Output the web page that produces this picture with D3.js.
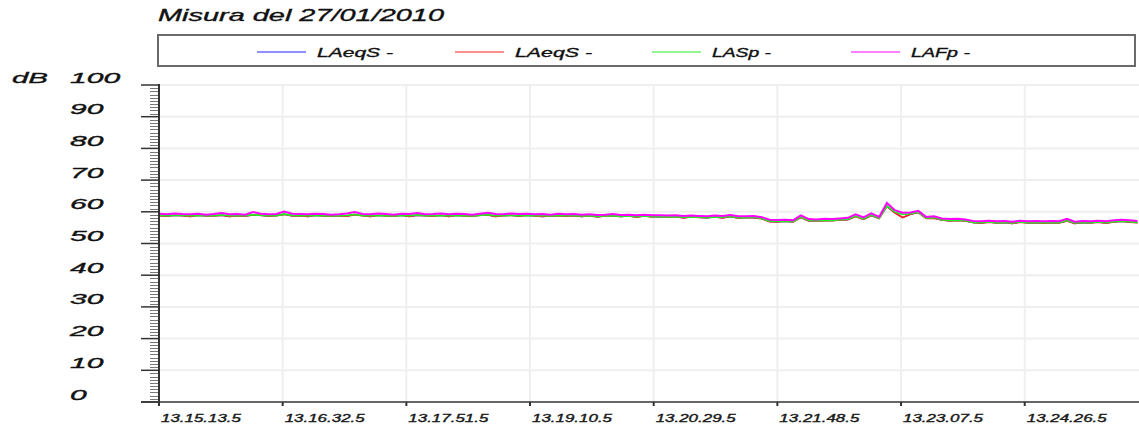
<!DOCTYPE html>
<html><head><meta charset="utf-8">
<script src="https://cdn.jsdelivr.net/npm/d3@7"></script>
<style>html,body{margin:0;padding:0;background:#fff;overflow:hidden}
text{stroke:#111;stroke-width:0.35px}</style>
</head><body>
<svg id="chart" width="1139" height="427"></svg>
<script>
const title = "Misura del 27/01/2010";
const yUnit = "dB";
const yTicks = [0,10,20,30,40,50,60,70,80,90,100];
const xTickLabels = ["13.15.13.5","13.16.32.5","13.17.51.5","13.19.10.5","13.20.29.5","13.21.48.5","13.23.07.5","13.24.26.5"];
const sampleStepSec = 5;
const seriesNames = ["LAeqS -","LAeqS -","LASp -","LAFp -"];
const seriesColors = ["#2020ff","#ff2020","#22ee22","#ff00ff"];

const lAeqS = [
58.8,58.6,58.9,58.8,58.5,58.9,58.7,58.7,58.9,58.5,58.8,58.6,59.0,
58.9,58.6,58.8,59.2,58.7,58.8,58.5,58.9,58.7,58.6,58.8,58.6,59.1,
58.8,58.5,58.9,58.7,58.6,58.9,58.5,58.9,58.8,58.6,58.9,58.5,58.9,
58.7,58.6,58.9,59.0,58.5,58.8,58.9,58.6,58.9,58.7,58.5,58.7,58.8,
58.6,58.8,58.5,58.8,58.4,58.7,58.7,58.5,58.7,58.3,58.7,58.4,58.5,
58.3,58.5,58.1,58.4,58.2,58.1,58.4,58.1,58.5,58.0,58.2,58.1,57.8,
56.9,56.8,57.0,56.8,58.2,57.1,57.1,57.2,57.2,57.4,57.5,58.5,
57.6,58.8,57.9,61.7,59.7,58.2,59.2,59.8,57.9,58.0,57.4,57.1,
57.3,57.1,56.6,56.4,56.7,56.5,56.6,56.3,56.7,56.5,56.6,56.4,56.6,56.5,57.1,56.3,56.6,56.5,56.7,56.4,56.8,57.0,56.7,56.6];

const lASp = [
58.9,58.8,58.9,58.9,58.8,58.9,58.8,58.8,59.0,58.8,58.8,58.8,59.1,
58.9,58.8,58.8,59.3,58.9,58.8,58.8,58.9,58.8,58.7,58.8,58.9,59.2,
58.8,58.8,58.9,58.8,58.7,58.9,58.8,59.0,58.8,58.8,58.9,58.8,58.9,
58.8,58.7,58.9,59.1,58.8,58.8,58.9,58.8,58.9,58.8,58.8,58.7,58.9,
58.8,58.8,58.7,58.8,58.6,58.7,58.8,58.6,58.7,58.5,58.7,58.5,58.5,
58.4,58.5,58.3,58.4,58.3,58.2,58.4,58.3,58.6,58.2,58.2,58.3,57.9,
57.1,57.0,57.1,56.9,58.4,57.3,57.2,57.4,57.3,57.5,57.7,58.7,
57.8,59.0,58.0,61.9,60.0,59.2,59.4,59.9,58.0,58.2,57.5,57.3,
57.4,57.2,56.7,56.6,56.8,56.6,56.7,56.5,56.8,56.6,56.7,56.6,56.7,56.6,57.3,56.5,56.7,56.6,56.8,56.6,56.9,57.1,56.9,56.7];

const lAFp = [
59.4,59.2,59.5,59.3,59.2,59.4,59.1,59.3,59.6,59.2,59.3,59.1,59.9,
59.4,59.2,59.3,60.1,59.4,59.3,59.2,59.4,59.3,59.1,59.2,59.5,59.9,
59.3,59.2,59.5,59.3,59.1,59.4,59.3,59.6,59.2,59.3,59.5,59.2,59.4,
59.3,59.1,59.4,59.7,59.3,59.2,59.5,59.3,59.4,59.2,59.3,59.1,59.4,
59.2,59.3,59.1,59.2,59.0,59.1,59.3,59.0,59.1,58.9,59.1,58.9,58.9,
58.8,58.9,58.7,58.8,58.7,58.6,58.8,58.7,59.0,58.6,58.6,58.7,58.3,
57.5,57.4,57.5,57.3,58.9,57.7,57.6,57.8,57.7,57.9,58.1,59.2,
58.2,59.5,58.4,62.8,60.5,59.7,59.8,60.3,58.4,58.6,57.9,57.7,
57.8,57.6,57.1,57.0,57.2,57.0,57.1,56.9,57.2,57.0,57.1,57.0,57.1,57.0,57.8,56.9,57.1,57.0,57.2,57.0,57.3,57.5,57.3,57.1];

const seriesData = [lAeqS, lAeqS, lASp, lAFp];

(function () {
function toSec(lbl){ const p = lbl.split("."); return (+p[0])*3600 + (+p[1])*60 + (+p[2]) + (+p[3])/10; }
const t0 = toSec(xTickLabels[0]);
const xTickSecs = xTickLabels.map(l => toSec(l) - t0);

const svg = d3.select("#chart");
const pL = 159, pR = 1139, pT = 85, pB = 402;
const x = d3.scaleLinear().domain([0, 626]).range([pL, pR]);
const y = d3.scaleLinear().domain([0, 100]).range([pB, pT]);
const font = "'Liberation Sans', Arial, sans-serif";

// title
svg.append("text").attr("x", 158).attr("y", 21).text(title)
  .attr("font-family", font).attr("font-style", "italic").attr("font-size", 17)
  .attr("fill", "#111").attr("textLength", 286).attr("lengthAdjust", "spacingAndGlyphs");

// legend box
svg.append("rect").attr("x", 158).attr("y", 35).attr("width", 977).attr("height", 31)
  .attr("fill", "#fff").attr("stroke", "#6a6a6a").attr("stroke-width", 2);
const legX = [257, 455, 652, 851];
const legW = [76, 77, 59, 59];
seriesNames.forEach((n, i) => {
  svg.append("line").attr("x1", legX[i]).attr("x2", legX[i] + 49).attr("y1", 52).attr("y2", 52)
    .attr("stroke", seriesColors[i]).attr("stroke-width", 1);
  svg.append("text").attr("x", legX[i] + 60).attr("y", 57).text(n)
    .attr("font-family", font).attr("font-style", "italic").attr("font-size", 13)
    .attr("fill", "#111").attr("textLength", legW[i]).attr("lengthAdjust", "spacingAndGlyphs");
});

// grid
const grid = svg.append("g");
grid.selectAll(".hg").data(yTicks.filter(v => v > 0)).join("line")
  .attr("x1", pL).attr("x2", pR).attr("y1", d => y(d)).attr("y2", d => y(d))
  .attr("stroke", "#efefef").attr("stroke-width", 2);
grid.selectAll(".vg").data(xTickSecs.slice(1)).join("line")
  .attr("x1", d => x(d)).attr("x2", d => x(d)).attr("y1", pT).attr("y2", pB)
  .attr("stroke", "#efefef").attr("stroke-width", 2);

// series
const line = d3.line().x((d, i) => x(i * sampleStepSec)).y(d => y(d));
const widths = [1.2, 1.6, 1.8, 2];
seriesData.forEach((arr, k) => {
  svg.append("path").datum(arr).attr("d", line).attr("fill", "none")
    .attr("stroke", seriesColors[k]).attr("stroke-width", widths[k]).attr("stroke-linejoin", "miter");
});

// y axis: minor ticks
const minor = d3.range(0, 101, 1).filter(v => v % 10 !== 0);
svg.append("g").selectAll("line").data(minor).join("line")
  .attr("x1", 150).attr("x2", pL).attr("y1", d => Math.round(y(d)) + 0.5).attr("y2", d => Math.round(y(d)) + 0.5)
  .attr("stroke", "#777").attr("stroke-width", 1);
svg.append("g").selectAll("line").data(yTicks).join("line")
  .attr("x1", 141).attr("x2", pL).attr("y1", d => y(d)).attr("y2", d => y(d))
  .attr("stroke", "#333").attr("stroke-width", 1.5);
svg.append("line").attr("x1", pL).attr("x2", pL).attr("y1", pT - 1).attr("y2", pB + 2)
  .attr("stroke", "#333").attr("stroke-width", 2);
svg.append("g").selectAll("text").data(yTicks).join("text")
  .attr("x", 70).attr("y", d => y(d) - 2.5).text(d => d)
  .attr("font-family", font).attr("font-style", "italic").attr("font-size", 15).attr("fill", "#111")
  .attr("textLength", d => String(d).length * 16.7).attr("lengthAdjust", "spacingAndGlyphs");
svg.append("text").attr("x", 12).attr("y", y(100) - 2.5).text(yUnit)
  .attr("font-family", font).attr("font-style", "italic").attr("font-size", 15).attr("fill", "#111")
  .attr("textLength", 36).attr("lengthAdjust", "spacingAndGlyphs");

// x axis
svg.append("line").attr("x1", 141).attr("x2", pR).attr("y1", pB).attr("y2", pB)
  .attr("stroke", "#333").attr("stroke-width", 1.5);
svg.append("g").selectAll("line").data(xTickSecs).join("line")
  .attr("x1", d => x(d)).attr("x2", d => x(d)).attr("y1", pB).attr("y2", pB + 4)
  .attr("stroke", "#333").attr("stroke-width", 2);
svg.append("g").selectAll("text").data(xTickLabels).join("text")
  .attr("x", (d, i) => x(xTickSecs[i]) + 2).attr("y", 422).text(d => d)
  .attr("font-family", font).attr("font-style", "italic").attr("font-size", 11).attr("fill", "#222")
  .attr("textLength", 80).attr("lengthAdjust", "spacingAndGlyphs");
})();
</script>
</body></html>
